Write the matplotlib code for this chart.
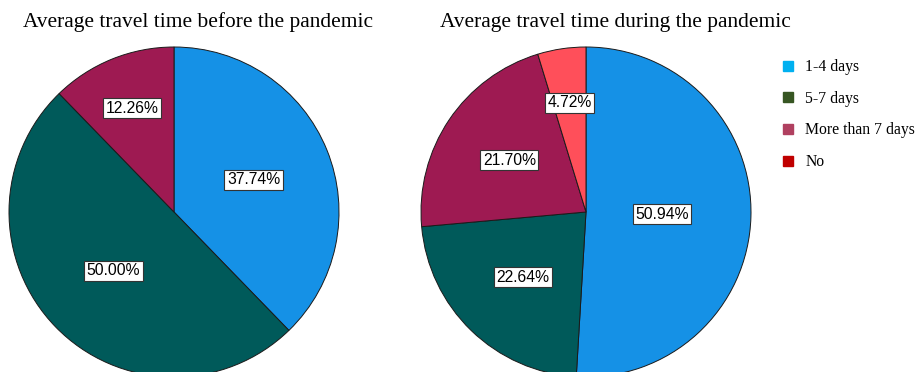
import matplotlib.pyplot as plt
import numpy as np
from matplotlib.lines import Line2D

categories = ['1-4 days', '5-7 days', 'More than 7 days', 'No']
before = [37.74, 50.00, 12.26]
during = [50.94, 22.64, 21.70, 4.72]

slice_colors = ['#1591e6', '#005a5a', '#9e1a52', '#ff4f5a']
legend_colors = ['#00b0f0', '#375623', '#b04060', '#c00000']

# label distance from centre, as a fraction of radius
before_ld = [0.52, 0.51, 0.68]
during_ld = [0.46, 0.55, 0.56, 0.67]

fig = plt.figure(figsize=(9.16, 3.72), dpi=100)
ax = fig.add_axes([0, 0, 1, 1])

R = 165


def draw_pie(values, cx, cy, dists):
    wedges, texts = ax.pie(values, colors=slice_colors[:len(values)], startangle=90,
                           counterclock=False, radius=R, center=(cx, cy),
                           labels=['%.2f%%' % v for v in values], labeldistance=0.5,
                           wedgeprops=dict(edgecolor='#1a1a1a', linewidth=0.7),
                           frame=True)
    for t, w, d in zip(texts, wedges, dists):
        ang = np.deg2rad((w.theta1 + w.theta2) / 2)
        t.set_position((cx + d * R * np.cos(ang), cy + d * R * np.sin(ang)))
        t.set_ha('center')
        t.set_va('center')
        t.set_fontsize(11.3)
        t.set_family('Liberation Sans')
        t.set_bbox(dict(facecolor='white', edgecolor='#333333', linewidth=0.8, pad=1.8))


draw_pie(before, 174, 160, before_ld)
draw_pie(during, 586, 160, during_ld)
ax.set_xlim(0, 916)
ax.set_ylim(0, 372)
ax.set_aspect('equal')
ax.axis('off')

fig.text(198 / 916, 1 - 22 / 372, 'Average travel time before the pandemic', ha='center', va='center',
         family='Liberation Serif', fontsize=15.4)
fig.text(615 / 916, 1 - 22 / 372, 'Average travel time during the pandemic', ha='center', va='center',
         family='Liberation Serif', fontsize=15.4)

handles = [Line2D([], [], marker='s', linestyle='none', markersize=7,
                  markerfacecolor=c, markeredgecolor=c) for c in legend_colors]
fig.legend(handles, categories, loc='upper left', bbox_to_anchor=(780 / 916, 1 - 59 / 372),
           frameon=False, prop={'family': 'Liberation Serif', 'size': 11.3},
           handlelength=1.0, handletextpad=0.6, labelspacing=1.0, borderaxespad=0,
           borderpad=0)

fig.savefig('out.png', dpi=100)
